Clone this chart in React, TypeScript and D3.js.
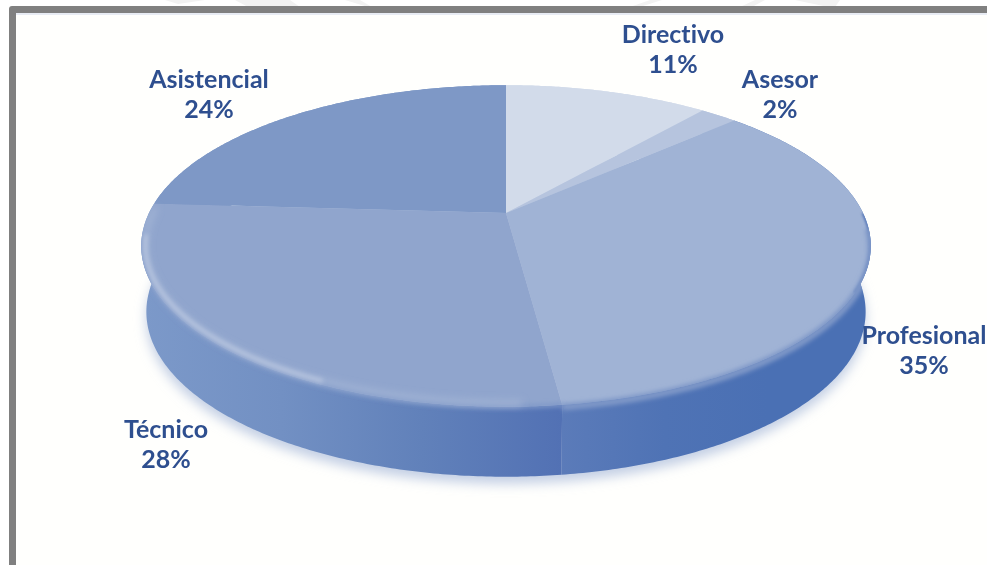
import * as d3 from 'd3';

const categories = ['Directivo', 'Asesor', 'Profesional', 'Técnico', 'Asistencial'];
const shares = [11, 2, 35, 28, 24];
const topColors = ['#d2dbea', '#b6c4de', '#a0b3d5', '#90a5cd', '#7e98c6'];
// wall shading left to right, only the front slices show a wall
const wallColors: Record<string, string[]> = {
    Profesional: ['#5b7bb9', '#4f73b5', '#4a70b4', '#4a70b4'],
    'Técnico': ['#7c99c9', '#7290c3', '#6181ba', '#5271b4'],
};
const labelCenters = [[673, 34], [780, 79], [924, 335], [166, 429], [209, 79]];

const width = 987;
const height = 565;
const cx = 506;

// perspective disc: apex sits above the middle of the ellipse
const k = -0.205;
const topDisc = {apex: 213, rx: 357, ry: 154};
const bottomDisc = {apex: 278, rx: 352, ry: 158};

type Disc = typeof topDisc;

const project = (disc: Disc, angle: number): [number, number] => {
    const u = Math.sin(angle);
    const v = -Math.cos(angle);
    const w = 1 + k * v;
    return [cx + (disc.rx * u) / w, disc.apex + (disc.ry * v) / w];
};

const arcPoints = (disc: Disc, a0: number, a1: number) => {
    const n = Math.max(2, Math.ceil(Math.abs(a1 - a0) / 0.01));
    return d3.range(n + 1).map(i => project(disc, a0 + ((a1 - a0) * i) / n));
};

const line = d3.line();
const deg = (d: number) => (d * Math.PI) / 180;

const slices = d3.pie<number>().sort(null).value(d => d)(shares);

const wallPath = (a0: number, a1: number) =>
    line([...arcPoints(topDisc, a0, a1), ...arcPoints(bottomDisc, a1, a0)]) + 'Z';

const App = () => {
    const apexPoint: [number, number] = [cx, topDisc.apex];
    const tecnicoEdge = arcPoints(topDisc, slices[3].startAngle, deg(262));
    const bevel = arcPoints({...topDisc, rx: topDisc.rx - 4, ry: topDisc.ry - 3}, deg(205), deg(262));
    const bevelFaint = arcPoints({...topDisc, rx: topDisc.rx - 4, ry: topDisc.ry - 3}, deg(178), deg(272));
    const profSoft = arcPoints({...topDisc, apex: topDisc.apex + 2}, deg(95), slices[2].endAngle);
    const rim = arcPoints(topDisc, deg(90), deg(118));

    return (
        <svg
            width={width}
            height={height}
            style={{position: 'absolute', left: 0, top: 0, background: '#fff'}}
            fontFamily="Lato, 'Open Sans', sans-serif"
        >
            <defs>
                <filter id="blur-shadow" x="-10%" y="-10%" width="120%" height="120%">
                    <feGaussianBlur stdDeviation="6" />
                </filter>
                <filter id="blur-edge" x="-5%" y="-5%" width="110%" height="110%">
                    <feGaussianBlur stdDeviation="2.2" />
                </filter>
                <filter id="blur-wide" x="-5%" y="-5%" width="110%" height="110%">
                    <feGaussianBlur stdDeviation="3.5" />
                </filter>
                <filter id="blur-rim" x="-5%" y="-5%" width="110%" height="110%">
                    <feGaussianBlur stdDeviation="1" />
                </filter>
                <filter id="blur-text" x="-5%" y="-5%" width="110%" height="110%">
                    <feGaussianBlur stdDeviation="0.4" />
                </filter>
                <clipPath id="silhouette">
                    <path d={line(arcPoints(topDisc, 0, 2 * Math.PI)) + 'Z'} />
                    {slices.map(s => (
                        <path key={s.index} d={wallPath(s.startAngle, s.endAngle)} />
                    ))}
                </clipPath>
                {slices.filter(s => wallColors[categories[s.index]]).map(s => {
                    const xs = [
                        ...arcPoints(topDisc, s.startAngle, s.endAngle),
                        ...arcPoints(bottomDisc, s.startAngle, s.endAngle),
                    ].map(p => p[0]);
                    const colors = wallColors[categories[s.index]];
                    return (
                        <linearGradient
                            key={s.index}
                            id={`wall-${s.index}`}
                            gradientUnits="userSpaceOnUse"
                            x1={d3.min(xs)}
                            x2={s.index === 3 ? project(topDisc, s.startAngle)[0] : d3.max(xs)}
                            y1={0}
                            y2={0}
                        >
                            {colors.map((c, i) => (
                                <stop key={c + i} offset={i / (colors.length - 1)} stopColor={c} />
                            ))}
                        </linearGradient>
                    );
                })}
            </defs>

            {/* faint watermark pieces above the frame */}
            <g fill="#f2f2f2">
                <path d="M165 0L178 4L205 0Z" />
                <path d="M235 0L248 7L300 7L290 0Z" />
                <path d="M345 0L368 7L372 7L360 0Z" />
                <path d="M630 7L640 7L662 0L650 0Z" />
                <path d="M740 7L752 7L765 0L755 0Z" />
                <path d="M795 0L828 7L835 7L840 0Z" />
            </g>

            {/* frame, open at the right and the bottom */}
            <rect x={9} y={6} width={width} height={height} fill="#808080" rx={3} />
            <rect x={16} y={13} width={width} height={height} fill="#fffffd" />
            <rect x={16} y={13} width={width} height={2} fill="#e8ecf4" />

            <path
                d={line(arcPoints({...bottomDisc, apex: bottomDisc.apex + 7}, 0, 2 * Math.PI)) + 'Z'}
                fill="#c3cfe4"
                filter="url(#blur-shadow)"
            />

            {slices.map(s => {
                const colors = wallColors[categories[s.index]];
                return (
                    <path
                        key={s.index}
                        d={wallPath(s.startAngle, s.endAngle)}
                        fill={colors ? `url(#wall-${s.index})` : topColors[s.index]}
                    />
                );
            })}

            {slices.map(s => (
                <path
                    key={s.index}
                    d={line([apexPoint, ...arcPoints(topDisc, s.startAngle, s.endAngle)]) + 'Z'}
                    fill={topColors[s.index]}
                />
            ))}

            {/* soft edge where the top face rolls into the wall */}
            <g clipPath="url(#silhouette)">
                <path d={line(rim) ?? ''} fill="none" stroke="#5577b8" strokeWidth={3} filter="url(#blur-rim)" />
                <path d={line(profSoft) ?? ''} fill="none" stroke="#7f98c8" strokeWidth={7} filter="url(#blur-edge)" />
                <path d={line(tecnicoEdge) ?? ''} fill="none" stroke="#7f98c8" strokeWidth={4} filter="url(#blur-edge)" />
                <path d={line(bevelFaint) ?? ''} fill="none" stroke="#a3b5d6" strokeWidth={5} filter="url(#blur-wide)" />
                <path d={line(bevel) ?? ''} fill="none" stroke="#b7c5df" strokeWidth={4} filter="url(#blur-edge)" />
            </g>

            <g filter="url(#blur-text)">
                {categories.map((name, i) => (
                    <text
                        key={name}
                        x={labelCenters[i][0]}
                        y={labelCenters[i][1]}
                        textAnchor="middle"
                        fontSize={25}
                        fontWeight={700}
                        fill="#2f4f8f"
                        style={{fontVariantLigatures: 'none'}}
                    >
                        <tspan x={labelCenters[i][0]} dy="0.35em">{name}</tspan>
                        <tspan x={labelCenters[i][0]} dy={30.5}>{shares[i]}%</tspan>
                    </text>
                ))}
            </g>
        </svg>
    );
};

export default App;
